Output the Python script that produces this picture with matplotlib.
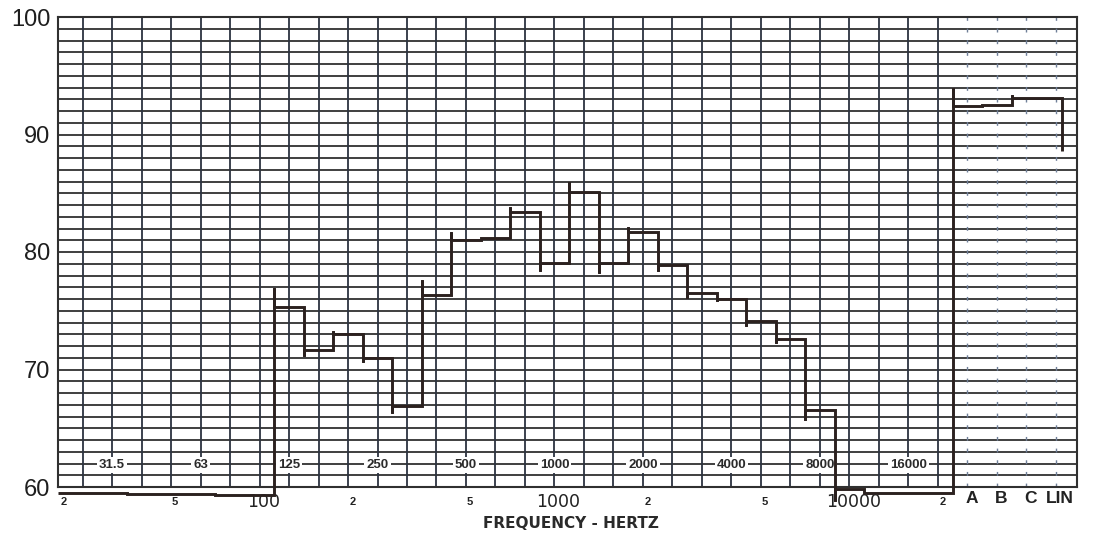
import numpy as np
import matplotlib
matplotlib.use("Agg")
import matplotlib.pyplot as plt

# ---------------- data ----------------
bands = ["20", "25", "31.5", "40", "50", "63", "80", "100", "125", "160",
         "200", "250", "315", "400", "500", "630", "800", "1000", "1250",
         "1600", "2000", "2500", "3150", "4000", "5000", "6300", "8000",
         "10000", "12500", "16000", "20000"]
levels = [59.5, 59.5, 59.5, 59.4, 59.4, 59.4, 59.3, 59.3, 75.3, 71.7,
          73.0, 71.0, 66.9, 76.3, 81.0, 81.2, 83.4, 79.05, 85.1,
          79.1, 81.7, 78.9, 76.5, 76.0, 74.1, 72.6, 66.55,
          59.8, 59.5, 59.5, 59.5]

weight_labels = ["A", "B", "C", "LIN"]
weight_levels = [92.4, 92.5, 93.1, 93.1]

octave_labels = ["31.5", "63", "125", "250", "500", "1000", "2000", "4000",
                 "8000", "16000"]

scale_freqs = [20, 50, 100, 200, 500, 1000, 2000, 5000, 10000, 20000]
scale_labels = ["2", "5", "100", "2", "5", "1000", "2", "5", "10000", "2"]

y_ticks = [60, 70, 80, 90, 100]

# ---------------- style ----------------
GRID = "#303030"
VGRID = "#2c3340"
PEN = "#2b211f"
XMIN, XMAX = 0.15, 34.7
YMIN, YMAX = 60, 100
BOTTOM_SHIFT = 0.15      # bottom texts sit slightly right on the scan

fig = plt.figure(figsize=(10.95, 5.36), dpi=100)
fig.patch.set_facecolor("white")
ax = fig.add_axes([57.5 / 1095, 49 / 536, 1019 / 1095, 470 / 536])
ax.set_xlim(XMIN, XMAX)
ax.set_ylim(YMIN, YMAX)
ax.set_facecolor("white")

n_bands = len(bands)
weight_pos = [n_bands + k for k in range(len(weight_labels))]

# horizontal 1 dB rulings
ax.hlines(np.arange(YMIN + 1, YMAX), XMIN, XMAX, colors=GRID, lw=1.3, zorder=1)
# vertical rulings at band centres (frequency section)
ax.vlines(np.arange(1, n_bands), YMIN, YMAX, colors=VGRID, lw=1.3, zorder=1)
# dashed rulings for the weighting section
ax.vlines(weight_pos, YMIN, YMAX, colors="#6f7f98", lw=1.0,
          linestyles=(0, (2.8, 5.6)), zorder=1)

for s in ax.spines.values():
    s.set_color(GRID)
    s.set_linewidth(1.5)

ax.set_xticks([])
ax.set_yticks(y_ticks)
ax.set_yticklabels([str(v) for v in y_ticks], family="Liberation Sans",
                   fontsize=17, color="#1e1e1e")
ax.tick_params(axis="y", length=0, pad=5)

# octave band labels inside the grid
for lab in octave_labels:
    ax.text(bands.index(lab), 61.85, lab, ha="center", va="center",
            fontsize=9.5, fontweight="bold", family="Liberation Sans",
            color="#2a2a2a", zorder=3,
            bbox=dict(fc="white", ec="none", pad=1.4))

# lower frequency scale
for f, lab in zip(scale_freqs, scale_labels):
    xi = 10 * np.log10(f / 20.0) + BOTTOM_SHIFT
    big = len(lab) > 1
    ha = "center"
    if xi < XMIN + 0.2:
        xi = XMIN + 0.1
        ha = "left"
    ax.text(xi, 58.75, lab, ha=ha, va="center", clip_on=False,
            fontsize=12.5 if big else 8,
            fontweight="normal" if big else "bold",
            family="DejaVu Sans" if big else "Liberation Sans",
            color="#222222")

# weighting labels
for p, lab in zip(weight_pos, weight_labels):
    ax.text(p + BOTTOM_SHIFT, 59.02, lab, ha="center", va="center",
            clip_on=False, fontsize=12.5, fontweight="bold",
            family="Liberation Sans", color="#222222")

ax.text(0.504, -0.0766, "FREQUENCY - HERTZ", transform=ax.transAxes,
        ha="center", va="center", fontsize=11, fontweight="bold",
        family="DejaVu Sans", color="#2a2a2a")

# ---------------- pen trace ----------------
pos = list(range(n_bands)) + weight_pos
lev = levels + weight_levels
xs, ys = [], []
prev = None
for k, (p, v) in enumerate(zip(pos, lev)):
    left = max(p - 0.5, XMIN)
    right = p + 0.5 if k < len(pos) - 1 else p + 0.2
    if prev is None:
        xs.append(left)
        ys.append(v)
    else:
        d = v - prev
        over = np.sign(d) * min(0.12 * abs(d) + 0.15, 1.6) if abs(d) > 0.3 else 0.0
        xs += [left, left, left]
        ys += [prev, v + over, v]
    xs.append(right)
    ys.append(v)
    prev = v
# pen lifted at the end
xs.append(xs[-1])
ys.append(88.6)

ax.plot(xs, ys, color=PEN, lw=2.1, solid_joinstyle="miter",
        solid_capstyle="butt", clip_on=False, zorder=4)

fig.savefig("out.png", dpi=100, facecolor="white")
